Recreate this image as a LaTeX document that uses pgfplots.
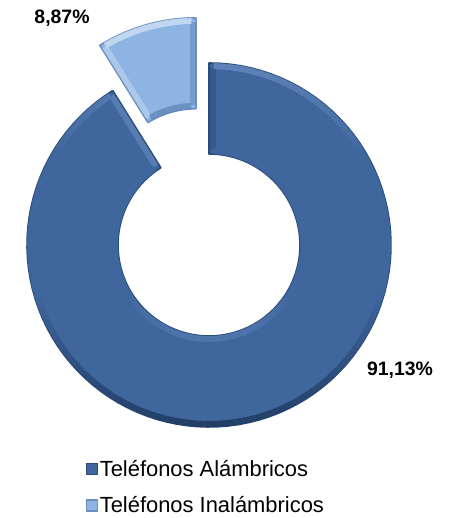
\documentclass[border=0pt]{standalone}
\usepackage{fontspec}
\setmainfont{Liberation Sans}
\usepackage{pgfplots}
\usepackage{pgfplotstable}
\pgfplotsset{compat=1.18}
\definecolor{darkmain}{HTML}{3F679E}
\definecolor{darkedge}{HTML}{2A4A78}
\definecolor{darkshadow}{HTML}{1F3A60}
\definecolor{darkhigh}{HTML}{7397CB}
\definecolor{lightmain}{HTML}{8DB4E2}
\definecolor{lightedge}{HTML}{6A90C2}
\definecolor{lightshadow}{HTML}{5A7FB0}
\definecolor{lighthigh}{HTML}{D3E4F8}
\pgfplotsset{
  colormap={darkout}{color=(darkshadow) color=(darkmain) color=(darkmain) color=(darkhigh)},
  colormap={darkin}{color=(darkhigh) color=(darkmain) color=(darkmain) color=(darkshadow)},
  colormap={lightout}{color=(lightshadow) color=(lightmain) color=(lighthigh)},
  colormap={lightin}{color=(lightmain) color=(lightshadow)},
}
\pgfplotstableread{
label value
Alambricos 91.13
Inalambricos 8.87
}\piedata
% ring geometry (axis units = bp)
\def\Ro{182}
\def\Ri{91}
\def\Cx{209}
\def\Cy{273}
\def\Expl{47}
% #1 start angle, #2 end angle, #3 centre x, #4 centre y, #5 style
\newcommand{\ringslice}[5]{%
\addplot[#5, domain=0:4, samples=401, variable=\t] (
 {#3 + (\t<1 ? \Ro : (\t<2 ? \Ro-(\t-1)*(\Ro-\Ri) : (\t<3 ? \Ri : \Ri+(\t-3)*(\Ro-\Ri))))
   * cos(\t<1 ? #1+\t*(#2-#1) : (\t<2 ? #2 : (\t<3 ? #2-(\t-2)*(#2-#1) : #1)))},
 {#4 + (\t<1 ? \Ro : (\t<2 ? \Ro-(\t-1)*(\Ro-\Ri) : (\t<3 ? \Ri : \Ri+(\t-3)*(\Ro-\Ri))))
   * sin(\t<1 ? #1+\t*(#2-#1) : (\t<2 ? #2 : (\t<3 ? #2-(\t-2)*(#2-#1) : #1)))});%
}
% bevel band along an arc: #1 a0, #2 a1, #3 cx, #4 cy, #5 radius, #6 colormap, #7 meta min, #8 meta max
\newcommand{\bevelarc}[8]{%
\addplot[forget plot, mesh, colormap name=#6, point meta=y, point meta min=#7, point meta max=#8,
  line width=6bp, line cap=butt, opacity=0.9, domain=#1:#2, samples=160, variable=\u]
  ({#3+#5*cos(\u)},{#4+#5*sin(\u)});%
}
% bevel band along a radial edge: #1 angle, #2 cx, #3 cy, #4 inward direction, #5 colour
\newcommand{\bevelrad}[5]{%
\addplot[forget plot, draw=#5, line width=6bp, line cap=butt, opacity=0.45, domain=\Ri+4:\Ro-4, samples=2, variable=\u]
  ({#2+\u*cos(#1)+3.5*cos(#4)},{#3+\u*sin(#1)+3.5*sin(#4)});%
}
\begin{document}%
\begin{tikzpicture}
\pgfplotstablegetelem{0}{value}\of\piedata \let\vA\pgfplotsretval
\pgfplotstablegetelem{1}{value}\of\piedata \let\vB\pgfplotsretval
\pgfmathsetmacro{\aSplit}{90+3.6*\vB}
\pgfmathsetmacro{\aMid}{90+1.8*\vB}
\pgfmathsetmacro{\Lx}{\Cx+\Expl*cos(\aMid)}
\pgfmathsetmacro{\Ly}{\Cy+\Expl*sin(\aMid)}
\pgfmathsetmacro{\Rob}{\Ro-3}
\pgfmathsetmacro{\Rib}{\Ri+3}
\pgfmathsetmacro{\dmin}{\Cy-\Ro}
\pgfmathsetmacro{\dmax}{\Cy+\Ro}
\pgfmathsetmacro{\lmin}{\Ly+\Ri*sin(\aSplit)}
\pgfmathsetmacro{\lmax}{\Ly+\Ro}
\begin{axis}[
  x=1bp, y=1bp,
  xmin=0, xmax=451, ymin=0, ymax=518,
  hide axis, clip=false,
  legend style={
    at={(rel axis cs:0.19,0.004)}, anchor=south west,
    draw=none, fill=none, inner sep=0pt, outer sep=0pt,
    font=\fontsize{22}{24}\selectfont,
    row sep=16bp,
    nodes={inner sep=1.5bp, anchor=base west},
  },
  legend cell align=left,
  legend image code/.code={\fill[#1] (0bp,2bp) rectangle (11bp,13bp);},
]
\addplot[draw=none, forget plot] coordinates {(0,0) (451,518)};
\ringslice{\aSplit}{450}{\Cx}{\Cy}{fill=darkmain, draw=darkedge, line width=1.6bp, line join=round}
\addlegendentry{Teléfonos Alámbricos}
\ringslice{90}{\aSplit}{\Lx}{\Ly}{fill=lightmain, draw=lightedge, line width=1.6bp, line join=round}
\addlegendentry{Teléfonos Inalámbricos}
\bevelrad{\aSplit}{\Cx}{\Cy}{\aSplit+90}{darkhigh}
\bevelrad{90}{\Cx}{\Cy}{0}{darkedge}
\bevelrad{90}{\Lx}{\Ly}{180}{lightshadow}
\bevelrad{\aSplit}{\Lx}{\Ly}{\aSplit-90}{lighthigh}
\bevelarc{\aSplit+1.5}{448.5}{\Cx}{\Cy}{\Rob}{darkout}{\dmin}{\dmax}
\bevelarc{\aSplit+3}{447}{\Cx}{\Cy}{\Rib}{darkin}{\dmin}{\dmax}
\bevelarc{91.5}{\aSplit-1.5}{\Lx}{\Ly}{\Rob}{lightout}{\lmin}{\lmax}
\bevelarc{93}{\aSplit-3}{\Lx}{\Ly}{\Rib}{lightin}{\lmin}{\lmax}
\node[font=\bfseries\fontsize{19.5}{19.5}\selectfont] at (axis cs:62,499.5) {8,87\%};
\node[font=\bfseries\fontsize{19.5}{19.5}\selectfont] at (axis cs:400,148) {91,13\%};
\end{axis}
\end{tikzpicture}%
\end{document}
